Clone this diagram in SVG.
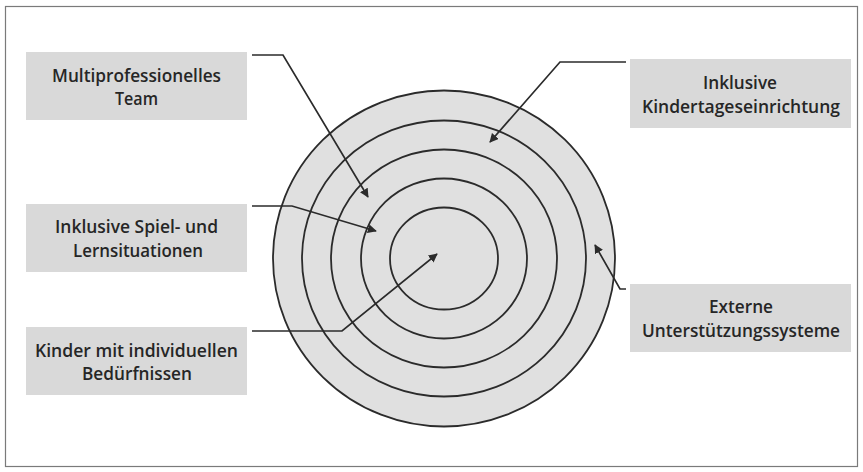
<svg xmlns="http://www.w3.org/2000/svg" width="863" height="472" viewBox="0 0 863 472">
<style>
.box{fill:#d9d9d9;}
.lbl{font-family:"Open Sans","Liberation Sans",sans-serif;font-weight:600;font-size:18px;fill:#262626;}
.ring{fill:none;stroke:#2b2b2b;stroke-width:1.8;}
.conn{fill:none;stroke:#2b2b2b;stroke-width:1.7;marker-end:url(#arr);}
</style>
<defs>
<marker id="arr" viewBox="0 0 10 10" refX="9" refY="5" markerWidth="9" markerHeight="9" markerUnits="userSpaceOnUse" orient="auto">
<path d="M0,0 L10,5 L0,10 z" fill="#2b2b2b"/>
</marker>
</defs>
<rect x="5.5" y="6.5" width="852" height="460" fill="#fff" stroke="#7a7a7a" stroke-width="1.2"/>
<g id="rings">
<ellipse cx="444" cy="258.5" rx="171" ry="168" fill="#e0e0e0" stroke="#2b2b2b" stroke-width="1.8"/>
<ellipse class="ring" cx="444" cy="258.5" rx="142" ry="138"/>
<ellipse class="ring" cx="444" cy="258.5" rx="113" ry="109"/>
<ellipse class="ring" cx="444" cy="258.5" rx="83" ry="80"/>
<ellipse class="ring" cx="444" cy="258.5" rx="54" ry="51"/>
</g>
<g id="connectors">
<path class="conn" d="M252,55 L283,55 L368,197"/>
<path class="conn" d="M252,206 L292,206 L376,231"/>
<path class="conn" d="M252,331 L342,331 L437,254"/>
<path class="conn" d="M626,62 L560,62 L490,142"/>
<path class="conn" d="M626,289 L620,289 L595,245"/>
</g>
<g id="team">
<rect class="box" x="26" y="52" width="221" height="68"/>
<text class="lbl" x="52" y="82" textLength="169" lengthAdjust="spacingAndGlyphs">Multiprofessionelles</text>
<text class="lbl" x="115" y="105" textLength="43" lengthAdjust="spacingAndGlyphs">Team</text>
</g>
<g id="kita">
<rect class="box" x="630" y="59" width="221" height="69"/>
<text class="lbl" x="703" y="89" textLength="74" lengthAdjust="spacingAndGlyphs">Inklusive</text>
<text class="lbl" x="642" y="113" textLength="198" lengthAdjust="spacingAndGlyphs">Kindertageseinrichtung</text>
</g>
<g id="spiel">
<rect class="box" x="26" y="204" width="221" height="68"/>
<text class="lbl" x="55" y="233" textLength="163" lengthAdjust="spacingAndGlyphs">Inklusive Spiel- und</text>
<text class="lbl" x="73" y="257" textLength="130" lengthAdjust="spacingAndGlyphs">Lernsituationen</text>
</g>
<g id="kinder">
<rect class="box" x="26" y="327" width="221" height="68"/>
<text class="lbl" x="35" y="357" textLength="203" lengthAdjust="spacingAndGlyphs">Kinder mit individuellen</text>
<text class="lbl" x="82" y="380" textLength="110" lengthAdjust="spacingAndGlyphs">Bedürfnissen</text>
</g>
<g id="extern">
<rect class="box" x="630" y="284" width="221" height="68"/>
<text class="lbl" x="709" y="313" textLength="64" lengthAdjust="spacingAndGlyphs">Externe</text>
<text class="lbl" x="642" y="337" textLength="198" lengthAdjust="spacingAndGlyphs">Unterstützungssysteme</text>
</g>
</svg>
